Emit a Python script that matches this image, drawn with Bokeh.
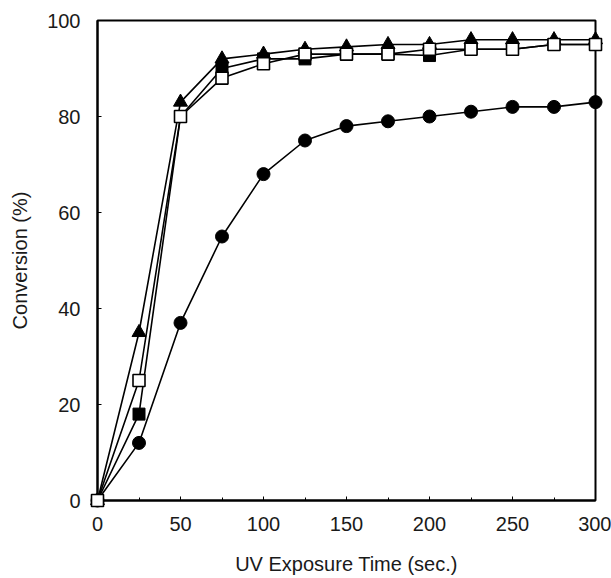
from bokeh.plotting import figure
from bokeh.models import Range1d, FixedTicker
from bokeh.embed import file_html
from bokeh.resources import INLINE

time_s = [0, 25, 50, 75, 100, 125, 150, 175, 200, 225, 250, 275, 300]
circles = [0, 12, 37, 55, 68, 75, 78, 79, 80, 81, 82, 82, 83]
triangles = [0, 35, 83, 92, 93, 94, 94.5, 95, 95, 96, 96, 96, 96]
filled_sq = [0, 18, 80, 90, 92, 92, 93, 93, 92.7, 94, 94, 95, 95]
open_sq = [0, 25, 80, 88, 91, 93, 93, 93, 94, 94, 94, 95, 95]
x_ticks = [0, 50, 100, 150, 200, 250, 300]
y_ticks = [0, 20, 40, 60, 80, 100]

FONT = "Liberation Sans"

p = figure(width=611, height=578, output_backend="svg", toolbar_location=None,
           x_range=Range1d(0, 300), y_range=Range1d(0, 100),
           min_border_left=97, min_border_right=16, min_border_top=20, min_border_bottom=78)
p.background_fill_color = "white"
p.border_fill_color = "white"
p.outline_line_color = "black"
p.outline_line_width = 2
p.grid.visible = False

for ax in (p.xaxis[0], p.yaxis[0]):
    ax.axis_line_width = 2
    ax.major_tick_in = 4
    ax.major_tick_out = 0
    ax.minor_tick_in = 3
    ax.minor_tick_out = 0
    ax.major_label_text_font = FONT
    ax.major_label_text_font_size = "20px"
    ax.major_label_text_color = "#1a1a1a"
    ax.axis_label_text_font = FONT
    ax.axis_label_text_font_size = "20px"
    ax.axis_label_text_font_style = "normal"
    ax.axis_label_text_color = "#1a1a1a"

p.xaxis.ticker = FixedTicker(ticks=x_ticks, minor_ticks=[25, 75, 125, 175, 225, 275])
p.yaxis.ticker = FixedTicker(ticks=y_ticks, minor_ticks=[])
p.xaxis.axis_label = "UV Exposure Time (sec.)"
p.yaxis.axis_label = "Conversion (%)"
p.xaxis.major_label_standoff = 16
p.yaxis.major_label_standoff = 17
p.xaxis.axis_label_standoff = 19
p.yaxis.axis_label_standoff = 13

lw = 1.6
p.line(time_s, circles, line_color="black", line_width=lw)
p.line(time_s, filled_sq, line_color="black", line_width=lw)
p.line(time_s, open_sq, line_color="black", line_width=lw)
p.line(time_s, triangles, line_color="black", line_width=lw)

p.scatter(time_s, circles, marker="circle", size=13, fill_color="black", line_color="black", level="overlay")
p.scatter(time_s, triangles, marker="triangle", size=14, fill_color="black", line_color="black", level="overlay")
p.scatter(time_s, filled_sq, marker="square", size=12, fill_color="black", line_color="black", level="overlay")
p.scatter(time_s, open_sq, marker="square", size=12, fill_color="white", line_color="black", line_width=1.6, level="overlay")

open("out.html", "w").write(file_html(p, INLINE))
